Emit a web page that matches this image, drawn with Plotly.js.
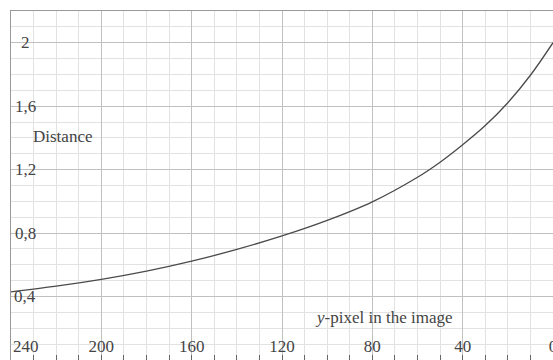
<!DOCTYPE html>
<html>
<head>
<meta charset="utf-8">
<script src="https://cdn.plot.ly/plotly-3.0.1.min.js"></script>
<style>html,body{margin:0;padding:0;background:#fff;}#chart{width:553px;height:360px;}</style>
</head>
<body>
<div id="chart"></div>
<script>
// y-pixel in the image (x axis, reversed)
var yPixel = [240, 220, 200, 180, 160, 140, 120, 100, 80, 60, 50, 40, 30, 20, 10, 0];
// Distance values
var distance = [0.43, 0.465, 0.508, 0.56, 0.623, 0.697, 0.782, 0.88, 0.997, 1.152, 1.247, 1.357, 1.478, 1.622, 1.795, 2.0];
// tick values
var xTickVals = [200, 160, 120, 80, 40, 0];
var yTickVals = [0.4, 0.8, 1.2, 1.6, 2];
var yTickText = ["0,4", "0,8", "1,2", "1,6", "2"];
var yAxisTitle = "Distance";
var xAxisTitle = "<i>y</i>-pixel in the image";
var firstXTick = "240";

var font = {family: "Liberation Serif, DejaVu Serif, serif", size: 17, color: "#444"};

var trace = {
  x: yPixel, y: distance, type: "scatter", mode: "lines",
  line: {color: "#4a4a4a", width: 1.3, shape: "spline", smoothing: 1},
  hoverinfo: "skip"
};

var annotations = [
  {text: yAxisTitle, x: 217, y: 1.406, xref: "x", yref: "y", showarrow: false, font: font, xanchor: "center", yanchor: "middle"},
  {text: xAxisTitle, x: 74.9, y: 0.265, xref: "x", yref: "y", showarrow: false, font: font, xanchor: "center", yanchor: "middle"},
  {text: firstXTick, x: 240, y: 0.082, xref: "x", yref: "y", showarrow: false, font: font, xanchor: "left", yanchor: "middle"}
];
yTickVals.forEach(function (v, i) {
  annotations.push({text: yTickText[i], x: 240, y: v, xref: "x", yref: "y", showarrow: false,
    font: font, xanchor: "center", yanchor: "middle", xshift: 14});
});

var layout = {
  width: 553, height: 360,
  margin: {l: 11, r: 0, t: 11, b: 0, pad: 0},
  paper_bgcolor: "#fff", plot_bgcolor: "#fff",
  separators: ", ",
  showlegend: false,
  font: font,
  xaxis: {
    range: [240, 0],
    tickmode: "array", tickvals: xTickVals,
    ticks: "inside", ticklen: 5, tickcolor: "#666", tickwidth: 1,
    ticklabelposition: "inside", ticklabeloverflow: "allow",
    tickfont: font,
    showgrid: true, gridcolor: "#c0c0c0", gridwidth: 1,
    minor: {dtick: 10, tick0: 0, showgrid: true, gridcolor: "#e2e2e2", gridwidth: 1, ticks: "inside", ticklen: 5, tickcolor: "#666"},
    zeroline: false,
    showline: true, linecolor: "#999", linewidth: 1.5, mirror: true
  },
  yaxis: {
    range: [0, 2.2],
    tickmode: "array", tickvals: yTickVals,
    ticks: "", showticklabels: false,
    showgrid: true, gridcolor: "#c0c0c0", gridwidth: 1,
    minor: {dtick: 0.1, tick0: 0, showgrid: true, gridcolor: "#e2e2e2", gridwidth: 1},
    zeroline: false,
    showline: true, linecolor: "#999", linewidth: 1.5, mirror: true
  },
  annotations: annotations
};

Plotly.newPlot("chart", [trace], layout, {staticPlot: true, displayModeBar: false});
</script>
</body>
</html>
